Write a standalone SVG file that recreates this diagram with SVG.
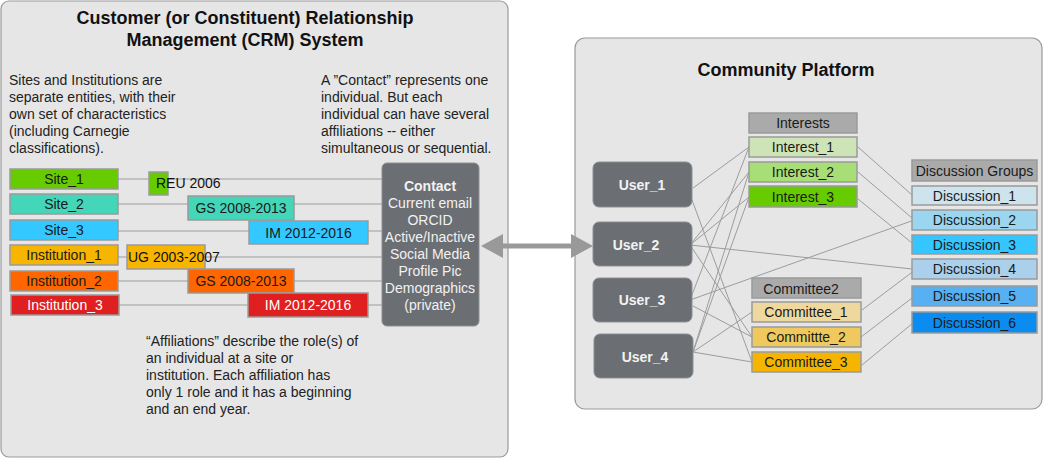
<svg xmlns="http://www.w3.org/2000/svg" width="1043" height="459" viewBox="0 0 1043 459">
<defs>
<style>
text{font-family:"Liberation Sans",Arial,sans-serif;fill:#1a1a1a;}
.panel{fill:#e6e6e6;stroke:#9a9a9a;stroke-width:1.2;}
.title{font-size:18px;font-weight:bold;text-anchor:middle;fill:#111;}
.note{font-size:14px;fill:#222;}
.box{stroke:#9a9a9a;stroke-width:1.5;}
.lbl{font-size:14px;text-anchor:middle;}
.dark{fill:#6b6e73;stroke:#8c8f93;stroke-width:1;}
.dt{font-size:14px;fill:#f2f2f2;text-anchor:middle;}
.ut{font-size:14px;font-weight:bold;fill:#f2f2f2;text-anchor:middle;}
.ln{stroke:#9c9c9c;stroke-width:1;fill:none;}
.hdr{fill:#aaaaaa;}
</style>
<marker id="ah" viewBox="0 0 22 24" refX="0" refY="12" markerWidth="22" markerHeight="24" markerUnits="userSpaceOnUse" orient="auto-start-reverse">
<path d="M0,0 L22,12 L0,24 z" fill="#999999"/>
</marker>
</defs>
<rect width="1043" height="459" fill="#ffffff"/>

<g id="crm-panel">
<rect class="panel" x="1" y="1" width="507" height="456" rx="8"/>
<text class="title" x="245" y="24">Customer (or Constituent) Relationship</text>
<text class="title" x="245" y="46">Management (CRM) System</text>
<text class="note" x="9" y="85">Sites and Institutions are</text>
<text class="note" x="9" y="102">separate entities, with their</text>
<text class="note" x="9" y="119">own set of characteristics</text>
<text class="note" x="9" y="136">(including Carnegie</text>
<text class="note" x="9" y="153">classifications).</text>
<text class="note" x="321" y="85">A ”Contact” represents one</text>
<text class="note" x="321" y="102">individual. But each</text>
<text class="note" x="321" y="119">individual can have several</text>
<text class="note" x="321" y="136">affiliations -- either</text>
<text class="note" x="321" y="153">simultaneous or sequential.</text>
<text class="note" x="146" y="346">“Affiliations” describe the role(s) of</text>
<text class="note" x="146" y="363">an individual at a site or</text>
<text class="note" x="146" y="380">institution. Each affiliation has</text>
<text class="note" x="146" y="397">only 1 role and it has a beginning</text>
<text class="note" x="146" y="414">and an end year.</text>
</g>

<g id="community-panel">
<rect class="panel" x="575" y="38" width="467" height="371" rx="10"/>
<text class="title" x="786" y="76">Community Platform</text>
</g>

<g id="connectors">
<line class="ln" x1="118" y1="179" x2="382" y2="179"/>
<line class="ln" x1="118" y1="204" x2="382" y2="204"/>
<line class="ln" x1="118" y1="231" x2="382" y2="231"/>
<line class="ln" x1="118" y1="257" x2="382" y2="257"/>
<line class="ln" x1="118" y1="281" x2="382" y2="281"/>
<line class="ln" x1="119" y1="305" x2="382" y2="305"/>
<line x1="503" y1="246" x2="571" y2="246" stroke="#999999" stroke-width="5" marker-start="url(#ah)" marker-end="url(#ah)"/>
<line class="ln" x1="693" y1="188" x2="749" y2="147"/>
<line class="ln" x1="692" y1="200" x2="752" y2="362"/>
<line class="ln" x1="690" y1="245" x2="749" y2="172"/>
<line class="ln" x1="690" y1="245" x2="749" y2="197"/>
<line class="ln" x1="690" y1="245" x2="752" y2="337"/>
<line class="ln" x1="690" y1="245" x2="912" y2="269"/>
<line class="ln" x1="690" y1="300" x2="749" y2="147"/>
<line class="ln" x1="690" y1="300" x2="917" y2="219"/>
<line class="ln" x1="693" y1="306" x2="752" y2="337"/>
<line class="ln" x1="693" y1="352" x2="749" y2="172"/>
<line class="ln" x1="693" y1="352" x2="749" y2="197"/>
<line class="ln" x1="693" y1="352" x2="752" y2="312"/>
<line class="ln" x1="693" y1="352" x2="752" y2="362"/>
<line class="ln" x1="858" y1="147" x2="912" y2="195"/>
<line class="ln" x1="858" y1="172" x2="912" y2="218"/>
<line class="ln" x1="858" y1="199" x2="912" y2="243"/>
<line class="ln" x1="862" y1="310" x2="915" y2="270"/>
<line class="ln" x1="861" y1="337" x2="912" y2="298"/>
<line class="ln" x1="862" y1="365" x2="913" y2="323"/>
</g>

<g id="site-1"><rect class="box" x="10" y="169" width="108" height="20" fill="#66cc00"/><text class="lbl" x="64" y="184">Site_1</text></g>
<g id="site-2"><rect class="box" x="10" y="194" width="108" height="20" fill="#44d6b8"/><text class="lbl" x="64" y="209">Site_2</text></g>
<g id="site-3"><rect class="box" x="10" y="220" width="108" height="20" fill="#33c8ff"/><text class="lbl" x="64" y="235">Site_3</text></g>
<g id="institution-1"><rect class="box" x="10" y="245" width="108" height="20" fill="#f7b500"/><text class="lbl" x="64" y="260">Institution_1</text></g>
<g id="institution-2"><rect class="box" x="10" y="271" width="108" height="20" fill="#ff6600"/><text class="lbl" x="64" y="286">Institution_2</text></g>
<g id="institution-3"><rect class="box" x="11" y="295" width="108" height="20" fill="#e02020"/><text class="lbl" x="65" y="310" style="fill:#ffffff">Institution_3</text></g>

<g id="aff-reu"><rect class="box" x="149" y="172" width="19" height="23" fill="#66cc00"/><text class="note" x="156" y="188" style="fill:#111">REU 2006</text></g>
<g id="aff-gs-site2"><rect class="box" x="188" y="196" width="106" height="24" fill="#44d6b8"/><text class="lbl" x="241" y="213">GS 2008-2013</text></g>
<g id="aff-im-site3"><rect class="box" x="249" y="221" width="119" height="23" fill="#33c8ff"/><text class="lbl" x="308.5" y="238">IM 2012-2016</text></g>
<g id="aff-ug-inst1"><rect class="box" x="127" y="245" width="78" height="24" fill="#f7b500"/><text class="note" x="128" y="262" style="fill:#111">UG 2003-2007</text></g>
<g id="aff-gs-inst2"><rect class="box" x="188" y="269" width="106" height="24" fill="#ff6600"/><text class="lbl" x="241" y="286">GS 2008-2013</text></g>
<g id="aff-im-inst3"><rect class="box" x="248" y="293" width="120" height="24" fill="#e02020"/><text class="lbl" x="308" y="310" style="fill:#ffffff">IM 2012-2016</text></g>

<g id="contact">
<rect class="dark" x="382" y="163" width="97" height="163" rx="5"/>
<text class="dt" x="430" y="191" font-weight="bold">Contact</text>
<text class="dt" x="430" y="208">Current email</text>
<text class="dt" x="430" y="225">ORCID</text>
<text class="dt" x="430" y="242">Active/Inactive</text>
<text class="dt" x="430" y="259">Social Media</text>
<text class="dt" x="430" y="276">Profile Pic</text>
<text class="dt" x="430" y="293">Demographics</text>
<text class="dt" x="430" y="310">(private)</text>
</g>

<g id="user-1"><rect class="dark" x="593" y="162" width="99" height="45" rx="6"/><text class="ut" x="642" y="190">User_1</text></g>
<g id="user-2"><rect class="dark" x="593" y="222" width="99" height="44" rx="6"/><text class="ut" x="636" y="250">User_2</text></g>
<g id="user-3"><rect class="dark" x="593" y="278" width="99" height="44" rx="6"/><text class="ut" x="642" y="305">User_3</text></g>
<g id="user-4"><rect class="dark" x="594" y="334" width="99" height="44" rx="6"/><text class="ut" x="645" y="362">User_4</text></g>

<g id="interests-header"><rect class="box hdr" x="749" y="113" width="108" height="20"/><text class="lbl" x="803" y="128">Interests</text></g>
<g id="interest-1"><rect class="box" x="749" y="137" width="108" height="20" fill="#cde5b6"/><text class="lbl" x="803" y="152">Interest_1</text></g>
<g id="interest-2"><rect class="box" x="749" y="162" width="108" height="20" fill="#a8de76"/><text class="lbl" x="803" y="177">Interest_2</text></g>
<g id="interest-3"><rect class="box" x="749" y="186" width="108" height="21" fill="#66cc00"/><text class="lbl" x="803" y="202">Interest_3</text></g>

<g id="committee-header"><rect class="box hdr" x="752" y="278" width="109" height="20"/><text class="lbl" x="801" y="294">Committee2</text></g>
<g id="committee-1"><rect class="box" x="752" y="302" width="109" height="20" fill="#eed89e"/><text class="lbl" x="806" y="317">Committee_1</text></g>
<g id="committee-2"><rect class="box" x="752" y="327" width="109" height="20" fill="#f0c95e"/><text class="lbl" x="806" y="342">Committte_2</text></g>
<g id="committee-3"><rect class="box" x="752" y="352" width="109" height="20" fill="#f5b400"/><text class="lbl" x="806" y="367">Committee_3</text></g>

<g id="discussion-header"><rect class="box hdr" x="912" y="160" width="125" height="21"/><text class="lbl" x="974.5" y="176">Discussion Groups</text></g>
<g id="discussion-1"><rect class="box" x="912" y="186" width="125" height="19" fill="#cde3ee"/><text class="lbl" x="974.5" y="201">Discussion_1</text></g>
<g id="discussion-2"><rect class="box" x="912" y="210" width="125" height="20" fill="#9ad6f0"/><text class="lbl" x="974.5" y="225">Discussion_2</text></g>
<g id="discussion-3"><rect class="box" x="912" y="235" width="125" height="19" fill="#36c6ff"/><text class="lbl" x="974.5" y="250">Discussion_3</text></g>
<g id="discussion-4"><rect class="box" x="912" y="259" width="125" height="20" fill="#aad0ec"/><text class="lbl" x="974.5" y="274">Discussion_4</text></g>
<g id="discussion-5"><rect class="box" x="912" y="286" width="125" height="20" fill="#56b0f2"/><text class="lbl" x="974.5" y="301">Discussion_5</text></g>
<g id="discussion-6"><rect class="box" x="912" y="312" width="125" height="21" fill="#0a8cf0"/><text class="lbl" x="974.5" y="328">Discussion_6</text></g>
</svg>
